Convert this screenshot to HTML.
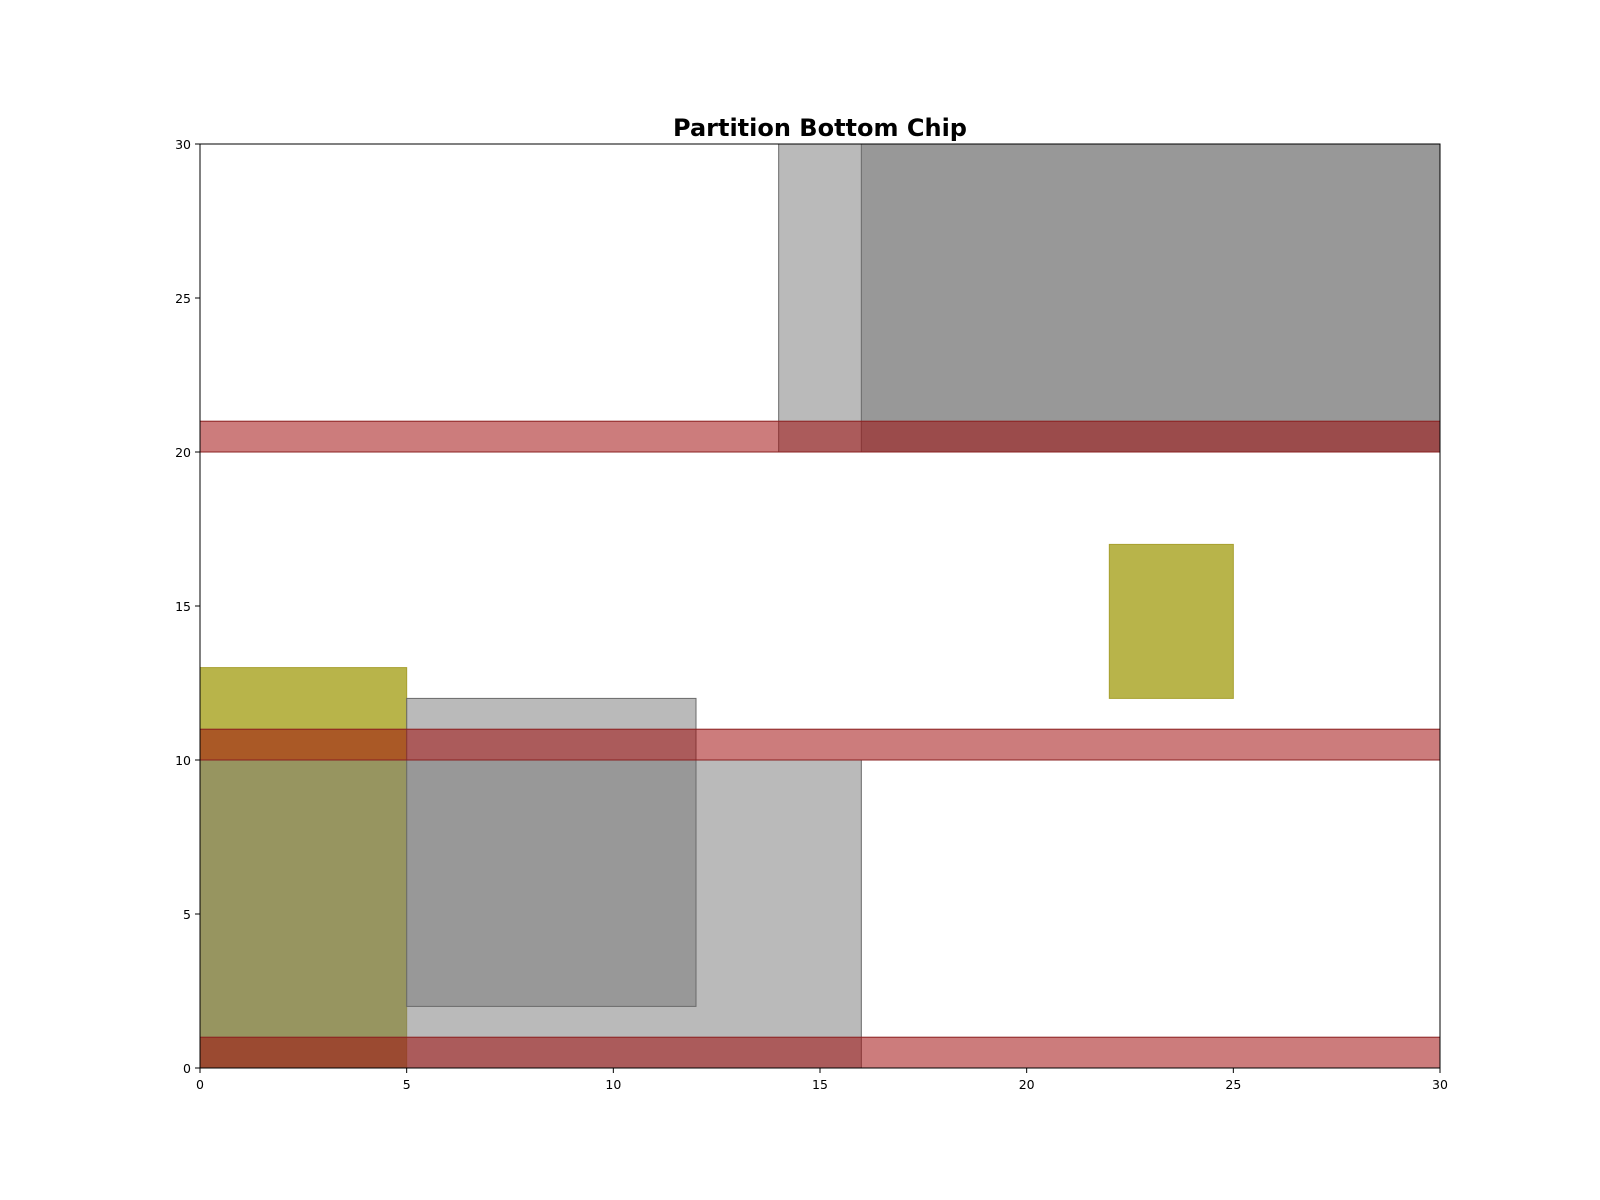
<!DOCTYPE html>
<html><head><meta charset="utf-8"><style>
body{margin:0;background:#fff}
svg{display:block;font-family:"DejaVu Sans","Liberation Sans",sans-serif}
</style></head><body>
<svg id="chart" width="1600" height="1200">
<text x="820" y="136" text-anchor="middle" font-size="24" font-weight="bold">Partition Bottom Chip</text>
<g id="rects"></g>
<rect x="200" y="144" width="1240" height="924" fill="none" stroke="#000" stroke-width="1"/>
<g id="axes"></g>
</svg>
<script>
const olivePieces = [[0,0,5,13],[22,12,3,5]];
const grayPieces = [[14,20,16,10],[16,20,14,10],[0,0,16,10],[5,2,7,10]];
const redBands = [[0,20,30,1],[0,10,30,1],[0,0,30,1]];
const xTicks = [0,5,10,15,20,25,30];
const yTicks = [0,5,10,15,20,25,30];
const X0=200,X1=1440,Y0=1068,Y1=144;
const sx=v=>X0+v*(X1-X0)/30, sy=v=>Y0-v*(Y0-Y1)/30;
const NS="http://www.w3.org/2000/svg";
const rg=document.getElementById('rects'), ag=document.getElementById('axes');
function addRect(d,fill,op,stroke,name){
  const r=document.createElementNS(NS,'rect');
  r.setAttribute('x',sx(d[0]));r.setAttribute('y',sy(d[1]+d[3]));
  r.setAttribute('width',sx(d[0]+d[2])-sx(d[0]));r.setAttribute('height',sy(d[1])-sy(d[1]+d[3]));
  r.setAttribute('fill',fill);r.setAttribute('fill-opacity',op);
  r.setAttribute('stroke',stroke);r.setAttribute('stroke-width','1');
  
  
  rg.appendChild(r);
}
olivePieces.forEach(d=>addRect(d,'#b8b44a',1,'#a8a030','olive-block'));
grayPieces.forEach(d=>addRect(d,'#757575',0.5,'#6a6a6a','gray-block'));
redBands.forEach(d=>addRect(d,'#9f0808',0.53,'#8a2020','red-band'));
xTicks.forEach(t=>{
  const l=document.createElementNS(NS,'line');
  l.setAttribute('x1',sx(t));l.setAttribute('x2',sx(t));l.setAttribute('y1',Y0);l.setAttribute('y2',Y0+5);l.setAttribute('stroke','#000');
  
  
  ag.appendChild(l);
  const tx=document.createElementNS(NS,'text');
  tx.setAttribute('x',sx(t));tx.setAttribute('y',Y0+21);tx.setAttribute('text-anchor','middle');tx.setAttribute('font-size','12.5');
  tx.textContent=t;
  
  
  ag.appendChild(tx);
});
yTicks.forEach(t=>{
  const l=document.createElementNS(NS,'line');
  l.setAttribute('x1',X0-5);l.setAttribute('x2',X0);l.setAttribute('y1',sy(t));l.setAttribute('y2',sy(t));l.setAttribute('stroke','#000');
  
  
  ag.appendChild(l);
  const tx=document.createElementNS(NS,'text');
  tx.setAttribute('x',X0-9);tx.setAttribute('y',sy(t)+5);tx.setAttribute('text-anchor','end');tx.setAttribute('font-size','12.5');
  tx.textContent=t;
  
  
  ag.appendChild(tx);
});
</script>
</body></html>
